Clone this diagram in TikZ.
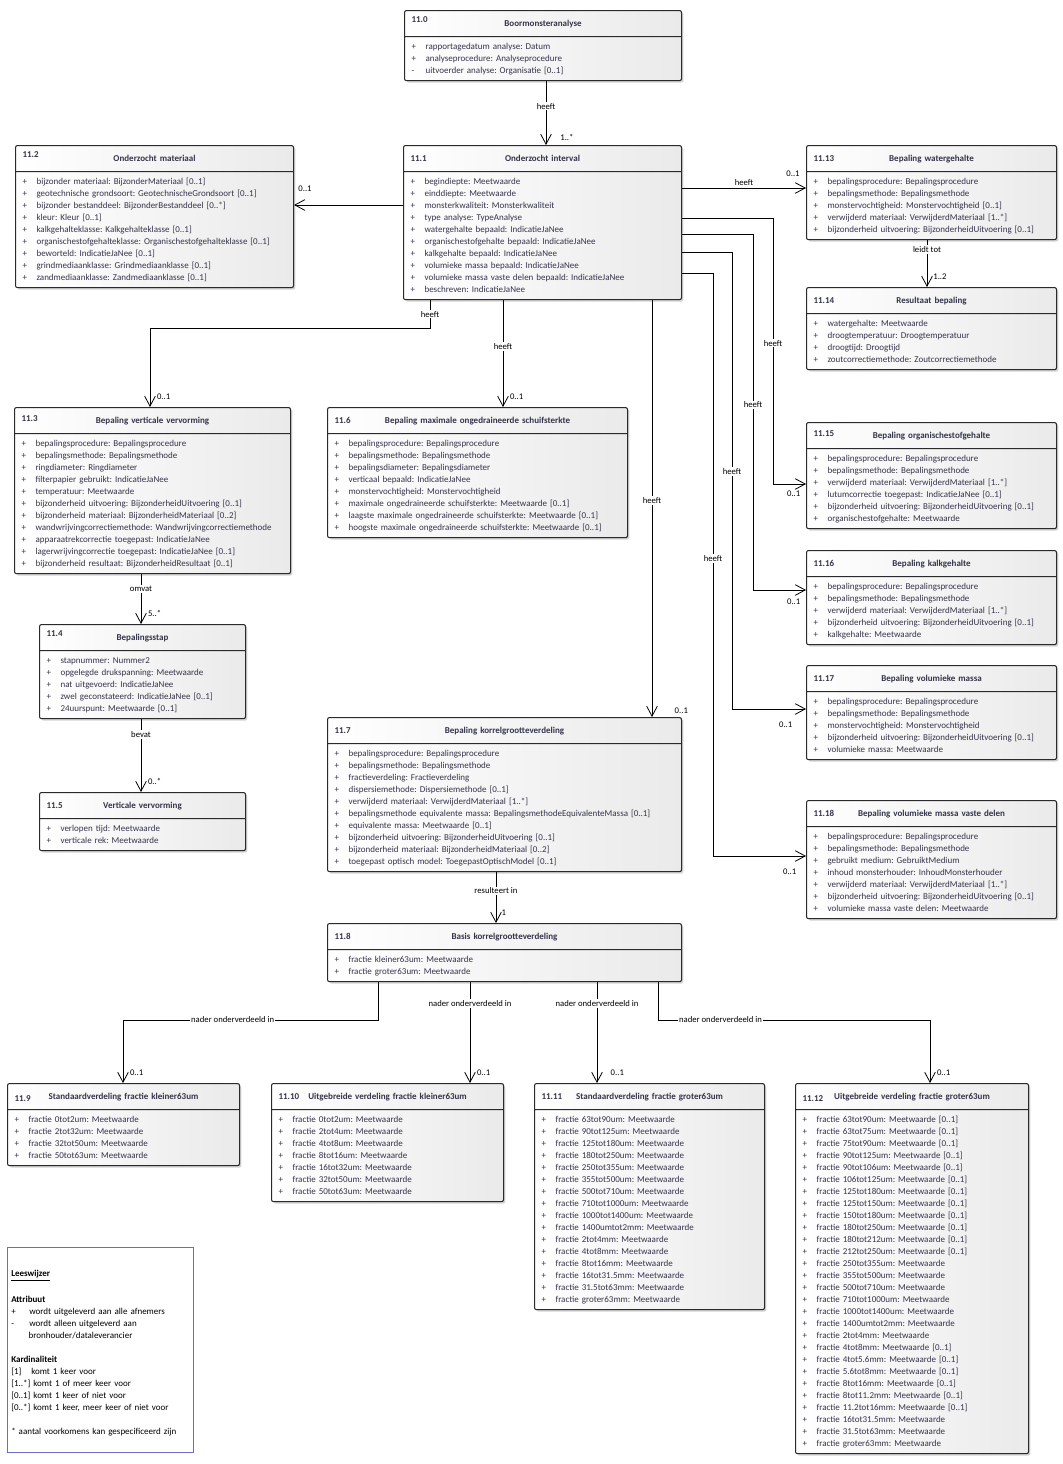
\documentclass[tikz,border=0pt]{standalone}
\usepackage{fontspec}
\setmainfont{Carlito}
\usepackage{tikz}
\usetikzlibrary{shapes,arrows,arrows.meta,positioning,calc,shadows,shapes.multipart}
\frenchspacing

\definecolor{clsEdge}{HTML}{2A2A2A}
\definecolor{clsShade}{HTML}{EAEAEA}
\definecolor{attrText}{HTML}{34344A}
\definecolor{lgEdge}{HTML}{6B6BC9}

%% header: number left, title centred
\newcommand{\clshead}[3][0pt]{\makebox[\hsize]{\rule[-4.25pt]{0pt}{13.5pt}\rlap{\raisebox{#1}{\bfseries #2}}\hfill{\bfseries #3}\hfill}}
%% attribute line
\newcommand{\attr}[2][+]{\strut\makebox[10.5pt][l]{#1}#2}

\tikzset{
  umlCls/.style={rectangle split, rectangle split parts=2, anchor=north west,
    draw=clsEdge, line width=0.8pt, rounded corners=1.5pt,
    left color=white, right color=clsShade,
    drop shadow={shadow xshift=1.4pt, shadow yshift=-1.4pt, opacity=0.35},
    text width=#1*0.75pt-10.5pt, inner xsep=5.25pt, inner ysep=2.625pt,
    align=left, font=\fontsize{6.75}{9}\selectfont, text=attrText},
  %% Association arrows
  assoc/.style={draw=black, line width=0.6pt, -{Straight Barb[length=7.5pt, width=8pt]}},
  asLbl/.style={fill=white, inner sep=1pt, font=\fontsize{6.5}{8}\selectfont, text=black},
  asMult/.style={inner sep=1pt, font=\fontsize{6.5}{8}\selectfont, text=black},
  multTop/.style={asMult, pos=1, anchor=south west, xshift=4pt, yshift=4.5pt},
  multBelow/.style={asMult, pos=1, anchor=north east, xshift=-3pt, yshift=-3.5pt},
  %% Legend
  lgBox/.style={draw=lgEdge, line width=0.8pt, fill=white, anchor=north west,
    minimum width=139.5pt, minimum height=153.75pt},
  lgText/.style={anchor=north west, inner sep=0pt, align=left, text width=130pt,
    font=\fontsize{6.75}{9}\selectfont, text=black},
}

\begin{document}
\begin{tikzpicture}[x=0.75pt, y=-0.75pt]
\useasboundingbox (0,0) rectangle (1063,1464);

%% Classes, top row
\node[umlCls=277] (clsBoor) at (404,10) {\clshead[3pt]{11.0}{Boormonsteranalyse}%
  \nodepart{two}
  \attr{rapportagedatum analyse: Datum}\\
  \attr{analyseprocedure: Analyseprocedure}\\
  \attr[-]{uitvoerder analyse: Organisatie [0..1]}};

\node[umlCls=278] (clsMateriaal) at (15,145) {\clshead[3pt]{11.2}{Onderzocht materiaal}%
  \nodepart{two}
  \attr{bijzonder materiaal: BijzonderMateriaal [0..1]}\\
  \attr{geotechnische grondsoort: GeotechnischeGrondsoort [0..1]}\\
  \attr{bijzonder bestanddeel: BijzonderBestanddeel [0..*]}\\
  \attr{kleur: Kleur [0..1]}\\
  \attr{kalkgehalteklasse: Kalkgehalteklasse [0..1]}\\
  \attr{organischestofgehalteklasse: Organischestofgehalteklasse [0..1]}\\
  \attr{beworteld: IndicatieJaNee [0..1]}\\
  \attr{grindmediaanklasse: Grindmediaanklasse [0..1]}\\
  \attr{zandmediaanklasse: Zandmediaanklasse [0..1]}};

\node[umlCls=278] (clsInterval) at (403,145) {\clshead{11.1}{Onderzocht interval}%
  \nodepart{two}
  \attr{begindiepte: Meetwaarde}\\
  \attr{einddiepte: Meetwaarde}\\
  \attr{monsterkwaliteit: Monsterkwaliteit}\\
  \attr{type analyse: TypeAnalyse}\\
  \attr{watergehalte bepaald: IndicatieJaNee}\\
  \attr{organischestofgehalte bepaald: IndicatieJaNee}\\
  \attr{kalkgehalte bepaald: IndicatieJaNee}\\
  \attr{volumieke massa bepaald: IndicatieJaNee}\\
  \attr{volumieke massa vaste delen bepaald: IndicatieJaNee}\\
  \attr{beschreven: IndicatieJaNee}};

%% Right column
\node[umlCls=250] (clsWater) at (806,145) {\clshead{11.13}{Bepaling watergehalte}%
  \nodepart{two}
  \attr{bepalingsprocedure: Bepalingsprocedure}\\
  \attr{bepalingsmethode: Bepalingsmethode}\\
  \attr{monstervochtigheid: Monstervochtigheid [0..1]}\\
  \attr{verwijderd materiaal: VerwijderdMateriaal [1..*]}\\
  \attr{bijzonderheid uitvoering: BijzonderheidUitvoering [0..1]}};

\node[umlCls=250] (clsResultaat) at (806,287) {\clshead{11.14}{Resultaat bepaling}%
  \nodepart{two}
  \attr{watergehalte: Meetwaarde}\\
  \attr{droogtemperatuur: Droogtemperatuur}\\
  \attr{droogtijd: Droogtijd}\\
  \attr{zoutcorrectiemethode: Zoutcorrectiemethode}};

\node[umlCls=250] (clsOrg) at (806,422) {\clshead[2pt]{11.15}{Bepaling organischestofgehalte}%
  \nodepart{two}
  \attr{bepalingsprocedure: Bepalingsprocedure}\\
  \attr{bepalingsmethode: Bepalingsmethode}\\
  \attr{verwijderd materiaal: VerwijderdMateriaal [1..*]}\\
  \attr{lutumcorrectie toegepast: IndicatieJaNee [0..1]}\\
  \attr{bijzonderheid uitvoering: BijzonderheidUitvoering [0..1]}\\
  \attr{organischestofgehalte: Meetwaarde}};

\node[umlCls=250] (clsKalk) at (806,550) {\clshead{11.16}{Bepaling kalkgehalte}%
  \nodepart{two}
  \attr{bepalingsprocedure: Bepalingsprocedure}\\
  \attr{bepalingsmethode: Bepalingsmethode}\\
  \attr{verwijderd materiaal: VerwijderdMateriaal [1..*]}\\
  \attr{bijzonderheid uitvoering: BijzonderheidUitvoering [0..1]}\\
  \attr{kalkgehalte: Meetwaarde}};

\node[umlCls=250] (clsVolMassa) at (806,665) {\clshead{11.17}{Bepaling volumieke massa}%
  \nodepart{two}
  \attr{bepalingsprocedure: Bepalingsprocedure}\\
  \attr{bepalingsmethode: Bepalingsmethode}\\
  \attr{monstervochtigheid: Monstervochtigheid}\\
  \attr{bijzonderheid uitvoering: BijzonderheidUitvoering [0..1]}\\
  \attr{volumieke massa: Meetwaarde}};

\node[umlCls=250] (clsVolVast) at (806,800) {\clshead{11.18}{Bepaling volumieke massa vaste delen}%
  \nodepart{two}
  \attr{bepalingsprocedure: Bepalingsprocedure}\\
  \attr{bepalingsmethode: Bepalingsmethode}\\
  \attr{gebruikt medium: GebruiktMedium}\\
  \attr{inhoud monsterhouder: InhoudMonsterhouder}\\
  \attr{verwijderd materiaal: VerwijderdMateriaal [1..*]}\\
  \attr{bijzonderheid uitvoering: BijzonderheidUitvoering [0..1]}\\
  \attr{volumieke massa vaste delen: Meetwaarde}};

%% Middle rows
\node[umlCls=276] (clsVervorming) at (14,407) {\clshead[1.5pt]{11.3}{Bepaling verticale vervorming}%
  \nodepart{two}
  \attr{bepalingsprocedure: Bepalingsprocedure}\\
  \attr{bepalingsmethode: Bepalingsmethode}\\
  \attr{ringdiameter: Ringdiameter}\\
  \attr{filterpapier gebruikt: IndicatieJaNee}\\
  \attr{temperatuur: Meetwaarde}\\
  \attr{bijzonderheid uitvoering: BijzonderheidUitvoering [0..1]}\\
  \attr{bijzonderheid materiaal: BijzonderheidMateriaal [0..2]}\\
  \attr{wandwrijvingcorrectiemethode: Wandwrijvingcorrectiemethode}\\
  \attr{apparaatrekcorrectie toegepast: IndicatieJaNee}\\
  \attr{lagerwrijvingcorrectie toegepast: IndicatieJaNee [0..1]}\\
  \attr{bijzonderheid resultaat: BijzonderheidResultaat [0..1]}};

\node[umlCls=300] (clsSchuif) at (327,407) {\clshead{11.6}{Bepaling maximale ongedraineerde schuifsterkte}%
  \nodepart{two}
  \attr{bepalingsprocedure: Bepalingsprocedure}\\
  \attr{bepalingsmethode: Bepalingsmethode}\\
  \attr{bepalingsdiameter: Bepalingsdiameter}\\
  \attr{verticaal bepaald: IndicatieJaNee}\\
  \attr{monstervochtigheid: Monstervochtigheid}\\
  \attr{maximale ongedraineerde schuifsterkte: Meetwaarde [0..1]}\\
  \attr{laagste maximale ongedraineerde schuifsterkte: Meetwaarde [0..1]}\\
  \attr{hoogste maximale ongedraineerde schuifsterkte: Meetwaarde [0..1]}};

\node[umlCls=206] (clsStap) at (39,624) {\clshead[3pt]{11.4}{Bepalingsstap}%
  \nodepart{two}
  \attr{stapnummer: Nummer2}\\
  \attr{opgelegde drukspanning: Meetwaarde}\\
  \attr{nat uitgevoerd: IndicatieJaNee}\\
  \attr{zwel geconstateerd: IndicatieJaNee [0..1]}\\
  \attr{24uurspunt: Meetwaarde [0..1]}};

\node[umlCls=206] (clsVertVerv) at (39,792) {\clshead{11.5}{Verticale vervorming}%
  \nodepart{two}
  \attr{verlopen tijd: Meetwaarde}\\
  \attr{verticale rek: Meetwaarde}};

\node[umlCls=354] (clsKorrel) at (327,717) {\clshead{11.7}{Bepaling korrelgrootteverdeling}%
  \nodepart{two}
  \attr{bepalingsprocedure: Bepalingsprocedure}\\
  \attr{bepalingsmethode: Bepalingsmethode}\\
  \attr{fractieverdeling: Fractieverdeling}\\
  \attr{dispersiemethode: Dispersiemethode [0..1]}\\
  \attr{verwijderd materiaal: VerwijderdMateriaal [1..*]}\\
  \attr{bepalingsmethode equivalente massa: BepalingsmethodeEquivalenteMassa [0..1]}\\
  \attr{equivalente massa: Meetwaarde [0..1]}\\
  \attr{bijzonderheid uitvoering: BijzonderheidUitvoering [0..1]}\\
  \attr{bijzonderheid materiaal: BijzonderheidMateriaal [0..2]}\\
  \attr{toegepast optisch model: ToegepastOptischModel [0..1]}};

\node[umlCls=354] (clsBasis) at (327,923) {\clshead{11.8}{Basis korrelgrootteverdeling}%
  \nodepart{two}
  \attr{fractie kleiner63um: Meetwaarde}\\
  \attr{fractie groter63um: Meetwaarde}};

%% Bottom row
\node[umlCls=232] (clsStdKlein) at (7,1083) {\clshead[-1pt]{11.9}{Standaardverdeling fractie kleiner63um}%
  \nodepart{two}
  \attr{fractie 0tot2um: Meetwaarde}\\
  \attr{fractie 2tot32um: Meetwaarde}\\
  \attr{fractie 32tot50um: Meetwaarde}\\
  \attr{fractie 50tot63um: Meetwaarde}};

\node[umlCls=232] (clsUitKlein) at (271,1083) {\clshead{11.10}{Uitgebreide verdeling fractie kleiner63um}%
  \nodepart{two}
  \attr{fractie 0tot2um: Meetwaarde}\\
  \attr{fractie 2tot4um: Meetwaarde}\\
  \attr{fractie 4tot8um: Meetwaarde}\\
  \attr{fractie 8tot16um: Meetwaarde}\\
  \attr{fractie 16tot32um: Meetwaarde}\\
  \attr{fractie 32tot50um: Meetwaarde}\\
  \attr{fractie 50tot63um: Meetwaarde}};

\node[umlCls=230] (clsStdGroot) at (534,1083) {\clshead{11.11}{Standaardverdeling fractie groter63um}%
  \nodepart{two}
  \attr{fractie 63tot90um: Meetwaarde}\\
  \attr{fractie 90tot125um: Meetwaarde}\\
  \attr{fractie 125tot180um: Meetwaarde}\\
  \attr{fractie 180tot250um: Meetwaarde}\\
  \attr{fractie 250tot355um: Meetwaarde}\\
  \attr{fractie 355tot500um: Meetwaarde}\\
  \attr{fractie 500tot710um: Meetwaarde}\\
  \attr{fractie 710tot1000um: Meetwaarde}\\
  \attr{fractie 1000tot1400um: Meetwaarde}\\
  \attr{fractie 1400umtot2mm: Meetwaarde}\\
  \attr{fractie 2tot4mm: Meetwaarde}\\
  \attr{fractie 4tot8mm: Meetwaarde}\\
  \attr{fractie 8tot16mm: Meetwaarde}\\
  \attr{fractie 16tot31.5mm: Meetwaarde}\\
  \attr{fractie 31.5tot63mm: Meetwaarde}\\
  \attr{fractie groter63mm: Meetwaarde}};

\node[umlCls=233] (clsUitGroot) at (795,1083) {\clshead[-1pt]{11.12}{Uitgebreide verdeling fractie groter63um}%
  \nodepart{two}
  \attr{fractie 63tot90um: Meetwaarde [0..1]}\\
  \attr{fractie 63tot75um: Meetwaarde [0..1]}\\
  \attr{fractie 75tot90um: Meetwaarde [0..1]}\\
  \attr{fractie 90tot125um: Meetwaarde [0..1]}\\
  \attr{fractie 90tot106um: Meetwaarde [0..1]}\\
  \attr{fractie 106tot125um: Meetwaarde [0..1]}\\
  \attr{fractie 125tot180um: Meetwaarde [0..1]}\\
  \attr{fractie 125tot150um: Meetwaarde [0..1]}\\
  \attr{fractie 150tot180um: Meetwaarde [0..1]}\\
  \attr{fractie 180tot250um: Meetwaarde [0..1]}\\
  \attr{fractie 180tot212um: Meetwaarde [0..1]}\\
  \attr{fractie 212tot250um: Meetwaarde [0..1]}\\
  \attr{fractie 250tot355um: Meetwaarde}\\
  \attr{fractie 355tot500um: Meetwaarde}\\
  \attr{fractie 500tot710um: Meetwaarde}\\
  \attr{fractie 710tot1000um: Meetwaarde}\\
  \attr{fractie 1000tot1400um: Meetwaarde}\\
  \attr{fractie 1400umtot2mm: Meetwaarde}\\
  \attr{fractie 2tot4mm: Meetwaarde}\\
  \attr{fractie 4tot8mm: Meetwaarde [0..1]}\\
  \attr{fractie 4tot5.6mm: Meetwaarde [0..1]}\\
  \attr{fractie 5.6tot8mm: Meetwaarde [0..1]}\\
  \attr{fractie 8tot16mm: Meetwaarde [0..1]}\\
  \attr{fractie 8tot11.2mm: Meetwaarde [0..1]}\\
  \attr{fractie 11.2tot16mm: Meetwaarde [0..1]}\\
  \attr{fractie 16tot31.5mm: Meetwaarde}\\
  \attr{fractie 31.5tot63mm: Meetwaarde}\\
  \attr{fractie groter63mm: Meetwaarde}};

%% Associations
\draw[assoc] (clsBoor.south -| 546,0) -- node[asLbl, pos=0.39]{heeft}
  node[multTop, xshift=5.5pt, yshift=-2.5pt]{1..*} (clsInterval.north -| 546,0);
\draw[assoc] (clsInterval.west |- 0,205) --
  node[asMult, pos=1, anchor=south west, xshift=2pt, yshift=8.5pt]{0..1} (clsMateriaal.east |- 0,205);
\draw[assoc] (clsInterval.east |- 0,188) -- node[asMult, above=0.5pt, pos=0.5]{heeft}
  node[asMult, pos=1, anchor=south east, xshift=-3.5pt, yshift=7pt]{0..1} (clsWater.west |- 0,188);
\draw[assoc] (clsWater.south -| 927,0) -- node[asLbl, pos=0.2]{leidt tot}
  node[multTop, xshift=-0.5pt]{1..2} (clsResultaat.north -| 927,0);

\draw[assoc] (clsInterval.south -| 430,0) -- node[asLbl, pos=0.5]{heeft} (430,328) -- (150,328)
  -- node[multTop]{0..1} (clsVervorming.north -| 150,0);
\draw[assoc] (clsInterval.south -| 503,0) -- node[asLbl, pos=0.43]{heeft}
  node[multTop]{0..1} (clsSchuif.north -| 503,0);
\draw[assoc] (clsInterval.south -| 652,0) -- node[asLbl, pos=0.48]{heeft}
  node[multTop, xshift=11.75pt, yshift=-3pt]{0..1} (clsKorrel.north -| 652,0);

%% right side fan-out
\draw[assoc] (clsInterval.east |- 0,218) -- (773,218) -- node[asLbl, pos=0.47]{heeft} (773,484)
  -- node[multBelow]{0..1} (clsOrg.west |- 0,484);
\draw[assoc] (clsInterval.east |- 0,234) -- (753,234) -- node[asLbl, pos=0.48]{heeft} (753,590)
  -- node[multBelow, yshift=-1.5pt]{0..1} (clsKalk.west |- 0,590);
\draw[assoc] (clsInterval.east |- 0,252) -- (732,252) -- node[asLbl, pos=0.48]{heeft} (732,709)
  -- node[multBelow, xshift=-6pt, yshift=-4.5pt]{0..1} (clsVolMassa.west |- 0,709);
\draw[assoc] (clsInterval.east |- 0,273) -- (713,273) -- node[asLbl, pos=0.49]{heeft} (713,856)
  -- node[multBelow, xshift=-3pt, yshift=-4.5pt]{0..1} (clsVolVast.west |- 0,856);

\draw[assoc] (clsVervorming.south -| 141,0) -- node[asLbl, pos=0.3]{omvat}
  node[multTop]{5..*} (clsStap.north -| 141,0);
\draw[assoc] (clsStap.south -| 141,0) -- node[asLbl, pos=0.21]{bevat}
  node[multTop]{0..*} (clsVertVerv.north -| 141,0);
\draw[assoc] (clsKorrel.south -| 496,0) -- node[asLbl, pos=0.37]{resulteert in}
  node[multTop, xshift=-1pt]{1} (clsBasis.north -| 496,0);

%% Basis -> verdelingen
\draw[assoc] (clsBasis.south -| 378,0) -- (378,1020) -- node[asLbl, pos=0.57]{nader onderverdeeld in} (123,1020)
  -- node[multTop]{0..1} (clsStdKlein.north -| 123,0);
\draw[assoc] (clsBasis.south -| 470,0) -- node[asLbl, pos=0.21]{nader onderverdeeld in}
  node[multTop]{0..1} (clsUitKlein.north -| 470,0);
\draw[assoc] (clsBasis.south -| 597,0) -- node[asLbl, pos=0.21]{nader onderverdeeld in}
  node[multTop, xshift=5pt]{0..1} (clsStdGroot.north -| 597,0);
\draw[assoc] (clsBasis.south -| 658,0) -- (658,1020) -- node[asLbl, pos=0.23]{nader onderverdeeld in} (930,1020)
  -- node[multTop]{0..1} (clsUitGroot.north -| 930,0);

%% Legend
\node[lgBox] (lgFrame) at (7,1247) {};
\node[lgText] (lgInfo) at (11,1268) {%
  \strut\underline{\textbf{Leeswijzer}}\\
  \strut\\
  \strut\textbf{Attribuut}\\
  \strut\makebox[13.5pt][l]{+}wordt uitgeleverd aan alle afnemers\\
  \strut\makebox[13.5pt][l]{-}wordt alleen uitgeleverd aan\\
  \strut\hspace*{13pt}bronhouder/dataleverancier\\
  \strut\\
  \strut\textbf{Kardinaliteit}\\
  \strut\makebox[15pt][l]{[1]}komt 1 keer voor\\
  \strut[1..*] komt 1 of meer keer voor\\
  \strut[0..1] komt 1 keer of niet voor\\
  \strut[0..*] komt 1 keer, meer keer of niet voor\\
  \strut\\
  \strut* aantal voorkomens kan gespecificeerd zijn};

\end{tikzpicture}
\end{document}
